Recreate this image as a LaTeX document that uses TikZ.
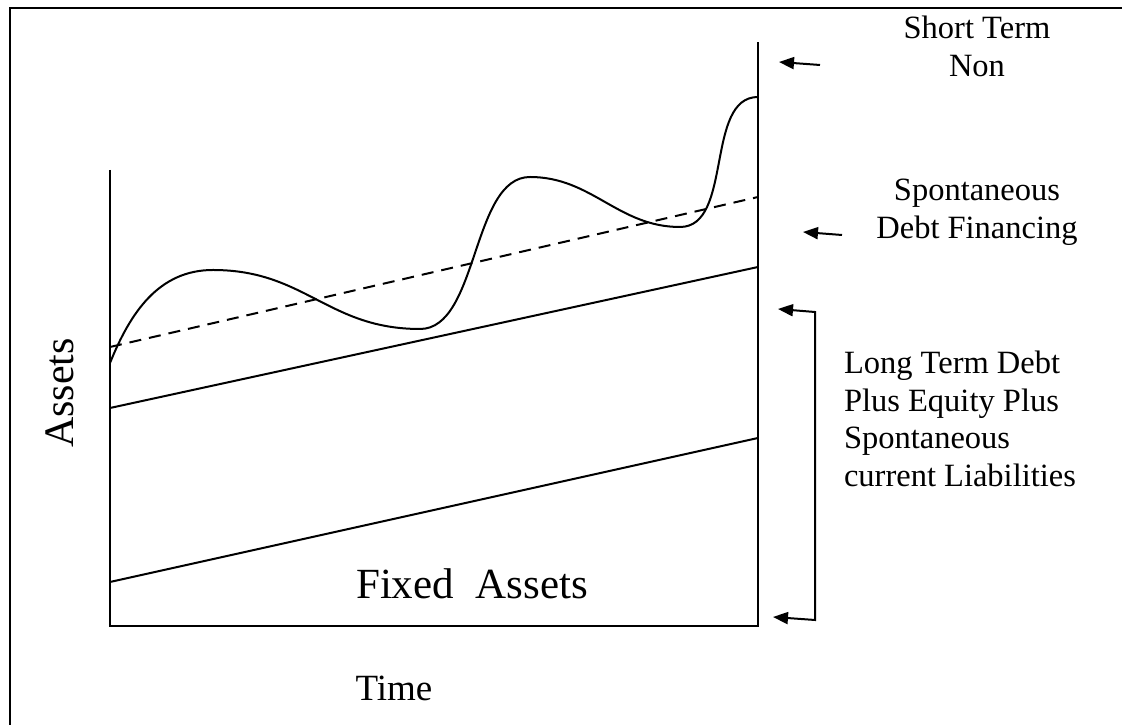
\documentclass[tikz,border=0pt]{standalone}
\usepackage{fontspec}
\setmainfont{Liberation Serif}
\usetikzlibrary{arrows.meta}

\begin{document}
\begin{tikzpicture}[
  x=1pt, y=1pt,
  line width=2pt,
  every node/.style={inner sep=0pt, outer sep=0pt},
  side/.style={font=\fontsize{32.5}{37.5}\selectfont, align=center},
  >={Triangle[length=15pt,width=12pt]}
]
\useasboundingbox (0,0) rectangle (1122,725);

% --- Frame ---
\draw[line width=2.5pt] (10,0) -- (10,717) -- (1122,717);

% --- Axes ---
\coordinate (yTop) at (110,555);
\coordinate (org)  at (110,99);
\coordinate (xEnd) at (758,99);
\coordinate (rTop) at (758,683);
\draw (yTop) -- (org) -- (xEnd) -- (rTop);

% --- Trend lines ---
\draw (110,143) -- (758,287);
\draw (110,317) -- (758,458);
\draw[dash pattern=on 12pt off 8pt] (110,378) -- (758,528);

% --- Fluctuating assets ---
\draw (110,362) to[out=68,in=180] (213,455)
  to[out=0,in=180,looseness=1.1] (420,396)
  to[out=0,in=180,looseness=0.8] (530,548)
  to[out=0,in=180] (680,498)
  to[out=0,in=180,looseness=0.9] (758,628);

% --- Labels ---
\node[side, anchor=north] (stn) at (977,709) {Short Term\\Non};
\node[side, anchor=north] (sdf) at (977,546) {Spontaneous\\Debt Financing};
\node[side, align=left, anchor=north west] (ltd) at (844,374)
  {Long Term Debt\\Plus Equity Plus\\Spontaneous\\current Liabilities};
\node[font=\fontsize{43}{50}\selectfont, anchor=base] (fa) at (472,126) {Fixed\ \ Assets};
\node[font=\fontsize{37}{44}\selectfont, anchor=base] (time) at (394,24) {Time};
\node[font=\fontsize{42}{48}\selectfont, rotate=90, anchor=base] (assets) at (73,332) {Assets};

% --- Arrows ---
\coordinate (stnTail) at (820,660);
\coordinate (stnTip)  at (779,663);
\coordinate (sdfTail) at (842,490);
\coordinate (sdfTip)  at (803,493);
\coordinate (ltTop)    at (815,413);
\coordinate (ltBot)    at (815,105);
\coordinate (ltTopTip) at (778,416);
\coordinate (ltBotTip) at (773,108);

\foreach \a/\b in {stnTail/stnTip, sdfTail/sdfTip}
  \draw[->] (\a) -- (\b);
\draw[<->] (ltTopTip) -- (ltTop) -- (ltBot) -- (ltBotTip);

\end{tikzpicture}
\end{document}
